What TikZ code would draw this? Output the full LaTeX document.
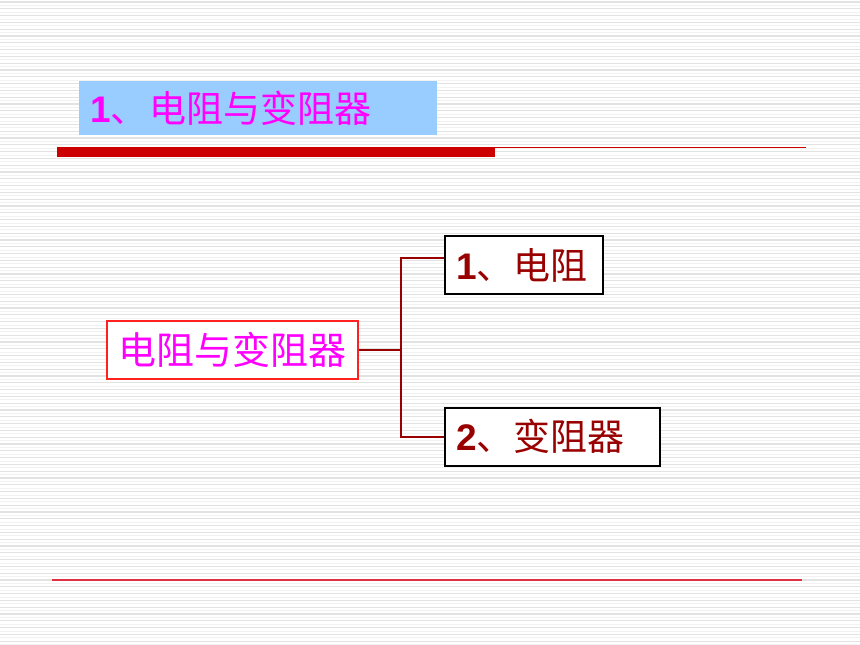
\documentclass[tikz,border=0pt]{standalone}
\usepackage{fontspec}
\setmainfont{Liberation Sans}
\newfontfamily\cjk{Noto Sans CJK SC}
\definecolor{titlebg}{HTML}{99CCFF}
\definecolor{mag}{HTML}{FF00FF}
\definecolor{dred}{HTML}{990000}
\definecolor{barred}{HTML}{CC0000}
\definecolor{linered}{HTML}{DD3040}
\definecolor{boxred}{HTML}{FF2020}
\tikzset{
  conn/.style={draw=dred, line width=2pt},
  subbox/.style={draw=black, line width=2pt, fill=white, anchor=west, align=left, inner xsep=11pt, inner ysep=0pt, minimum height=58pt, text=dred, font=\fontsize{37}{40}\selectfont},
  mainbox/.style={draw=boxred, line width=2pt, fill=white, minimum width=251pt, minimum height=58pt, inner sep=0pt, text=mag, font=\fontsize{38}{42}\selectfont\cjk}
}
\begin{document}
\begin{tikzpicture}[x=1pt,y=-1pt]
\useasboundingbox (0,0) rectangle (860,645);
\fill[white] (0,0) rectangle (860,645);
\foreach \i in {0,...,94}{
  \draw[black!11,line width=1.3pt] (0,\i*6.8+2) -- (860,\i*6.8+2);
  \draw[black!5,line width=1pt] (0,\i*6.8+5.4) -- (860,\i*6.8+5.4);
}
% title
\node[fill=titlebg, minimum width=358pt, minimum height=54pt, inner sep=0pt, anchor=north west] (titlebox) at (79,81) {};
\node[anchor=west, text=mag, inner sep=0pt, font=\fontsize{37}{40}\selectfont] (titletxt) at (90,108) {\textbf{1}\cjk 、\hspace{2pt}电阻与变阻器};
% top bar and lines
\fill[barred] (57,147) rectangle (495,157);
\draw[barred, line width=1pt] (495,147.5) -- (806,147.5);
\draw[linered, line width=1.5pt] (52,580) -- (802,580);
% main box
\node[mainbox] (main) at (232.5,350) {电阻与变阻器};
% sub boxes
\node[subbox, text width=136pt] (b1) at (444,265) {\textbf{1}{\cjk 、电阻}};
\node[subbox, text width=193pt] (b2) at (444,436.5) {\textbf{2}{\cjk 、变阻器}};
% connectors
\coordinate (jn) at (401,350);
\draw[conn] (main.east) -- (jn);
\draw[conn] (jn) |- ([yshift=7pt]b1.west);
\draw[conn] (jn) |- (b2.west);
\end{tikzpicture}
\end{document}
